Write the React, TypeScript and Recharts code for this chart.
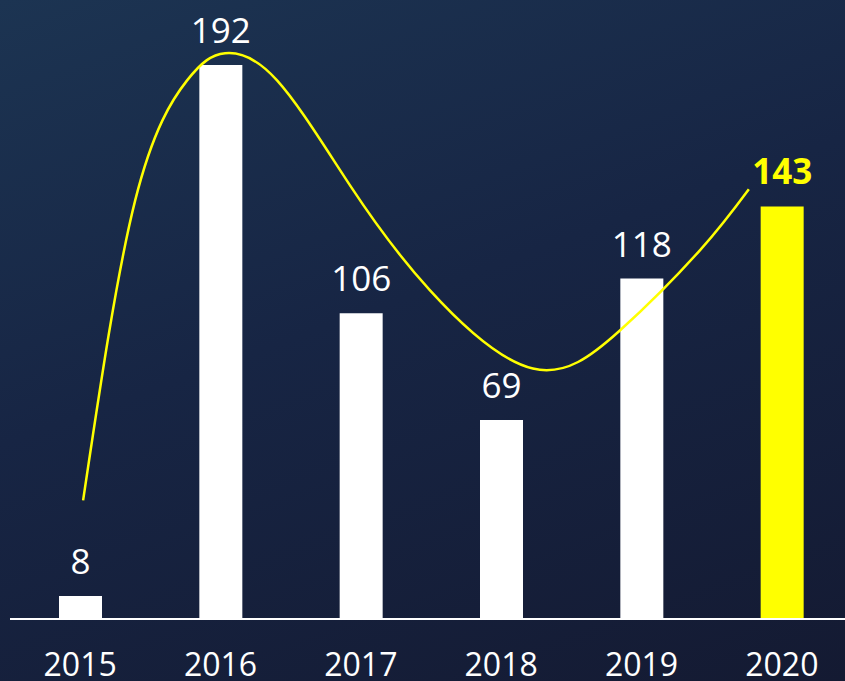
import { ComposedChart, Bar, Line, XAxis, YAxis, Cell, LabelList } from "recharts";

const years = ["2015", "2016", "2017", "2018", "2019", "2020"];
const counts = [8, 192, 106, 69, 118, 143];
const barColors = ["#ffffff", "#ffffff", "#ffffff", "#ffffff", "#ffffff", "#ffff00"];

// decorative trend curve, x in category units (band i spans i..i+1)
const trendX = [0.521, 0.892, 1.262, 1.533, 1.903, 2.423, 2.993, 3.726, 4.346, 4.916, 5.265];
const trendY = [41.1, 145.1, 186.7, 196.1, 186.7, 150.3, 113.9, 86.8, 100.0, 127.8, 149.0];

const barData = years.map((year, i) => ({ year, count: counts[i] }));
const trendData = trendX.map((x, i) => ({ x, y: trendY[i] }));

const FONT = "'Open Sans', 'Noto Sans', sans-serif";

const renderLabel = (props: any) => {
  const { x, y, width, value, index } = props;
  const last = index === counts.length - 1;
  return (
    <text
      x={x + width / 2}
      y={y - 22}
      textAnchor="middle"
      fill={last ? "#ffff00" : "#ffffff"}
      fontSize={35}
      fontWeight={last ? 700 : 400}
      fontFamily={FONT}
    >
      {value}
    </text>
  );
};

export default function App() {
  return (
    <div
      style={{
        width: 845,
        height: 681,
        overflow: "hidden",
        background: "linear-gradient(160deg, #1c3452 0%, #172544 45%, #141a32 100%)",
      }}
    >
      <style>{"body{margin:0}"}</style>
      <ComposedChart
        width={852}
        height={681}
        data={barData}
        margin={{ top: 42, right: 0, left: 10, bottom: 0 }}
      >
        <XAxis
          dataKey="year"
          xAxisId="cat"
          height={62}
          axisLine={{ stroke: "#ffffff", strokeWidth: 2 }}
          tickLine={false}
          tickSize={0}
          tickMargin={34}
          interval={0}
          tick={{ fill: "#ffffff", fontSize: 32, fontFamily: FONT }}
        />
        <XAxis xAxisId="t" type="number" dataKey="x" domain={[0, 6]} hide />
        <YAxis hide domain={[0, 200]} />
        <Bar dataKey="count" xAxisId="cat" barSize={43} isAnimationActive={false}>
          {barData.map((d, i) => (
            <Cell key={d.year} fill={barColors[i]} />
          ))}
          <LabelList dataKey="count" content={renderLabel} />
        </Bar>
        <Line
          data={trendData}
          xAxisId="t"
          dataKey="y"
          type="natural"
          stroke="#ffff00"
          strokeWidth={2.5}
          dot={false}
          activeDot={false}
          isAnimationActive={false}
        />
      </ComposedChart>
    </div>
  );
}
